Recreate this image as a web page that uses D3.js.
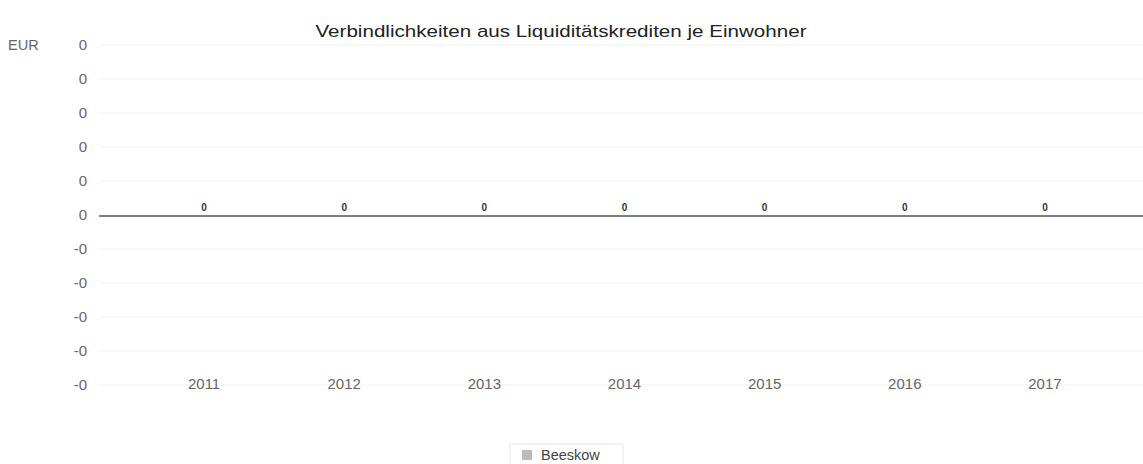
<!DOCTYPE html>
<html><head><meta charset="utf-8">
<script src="https://cdn.jsdelivr.net/npm/d3@7"></script>
<style>body{margin:0;background:#fff;font-family:"Liberation Sans",Arial,sans-serif}</style>
</head><body>
<svg id="c" width="1143" height="464"></svg>
<script>
const years = ["2011","2012","2013","2014","2015","2016","2017"];
const values = [0,0,0,0,0,0,0];
const yTickValues = [5,4,3,2,1,0,-1,-2,-3,-4,-5];
const yTickLabels = ["0","0","0","0","0","0","-0","-0","-0","-0","-0"];
const seriesName = "Beeskow";
const title = "Verbindlichkeiten aus Liquiditätskrediten je Einwohner";
const unit = "EUR";

const svg = d3.select("#c");
const x = d3.scaleBand().domain(years).range([134, 1115]);
const y = d3.scaleLinear().domain([-5, 5]).range([385, 45]);
const FF = "Liberation Sans, Arial, sans-serif";

svg.append("text").attr("x", 561).attr("y", 37).attr("text-anchor", "middle")
  .attr("font-size", 17).attr("fill", "#222")
  .attr("textLength", 491).attr("lengthAdjust", "spacingAndGlyphs").text(title);

// grid
svg.append("g").selectAll("line").data(yTickValues.filter(v => v !== 0)).join("line")
  .attr("x1", 100).attr("x2", 1143).attr("y1", d => y(d)).attr("y2", d => y(d))
  .attr("stroke", "#f2f2f2").attr("stroke-width", 1);

// y axis labels
const yAxis = d3.axisLeft(y).tickValues(yTickValues)
  .tickFormat((d, i) => yTickLabels[i]).tickSize(0).tickPadding(0);
const gy = svg.append("g").attr("transform", "translate(87,0)").call(yAxis);
gy.select(".domain").remove();
gy.selectAll("text").attr("font-size", 15).attr("fill", "#666").attr("font-family", FF);

svg.append("text").attr("x", 8).attr("y", 50).attr("font-size", 14.5).attr("fill", "#666")
  .attr("font-family", FF).text(unit);

// x axis labels
const xAxis = d3.axisBottom(x).tickSize(0).tickPadding(0);
const gx = svg.append("g").attr("transform", "translate(0,378)").call(xAxis);
gx.select(".domain").remove();
gx.selectAll("text").attr("font-size", 15).attr("fill", "#666").attr("font-family", FF);

// bars (zero height)
svg.append("g").selectAll("rect").data(values).join("rect")
  .attr("x", (d, i) => x(years[i]) + x.bandwidth() * 0.2)
  .attr("width", x.bandwidth() * 0.6)
  .attr("y", d => y(Math.max(0, d)))
  .attr("height", d => Math.abs(y(d) - y(0)))
  .attr("fill", "#aaa");

// zero line
svg.append("line").attr("x1", 99).attr("x2", 1143).attr("y1", y(0) + 1).attr("y2", y(0) + 1)
  .attr("stroke", "#555").attr("stroke-width", 1.6);

// value labels
svg.append("g").selectAll("text").data(values).join("text")
  .attr("x", (d, i) => x(years[i]) + x.bandwidth() / 2)
  .attr("y", d => y(d) - 4).attr("text-anchor", "middle")
  .attr("font-size", 10).attr("font-weight", "bold").attr("fill", "#333")
  .text(d => d3.format("d")(d));

// legend
const lg = svg.append("g").attr("transform", "translate(510,444)");
lg.append("rect").attr("x", 0).attr("y", 0).attr("width", 113).attr("height", 22)
  .attr("fill", "#fff").attr("stroke", "#e6e6e6");
lg.append("rect").attr("x", 12).attr("y", 6).attr("width", 10).attr("height", 10).attr("fill", "#bbb");
lg.append("text").attr("x", 31).attr("y", 16).attr("font-size", 14.5).attr("fill", "#444")
  .attr("font-family", FF).text(seriesName);
</script>
</body></html>
